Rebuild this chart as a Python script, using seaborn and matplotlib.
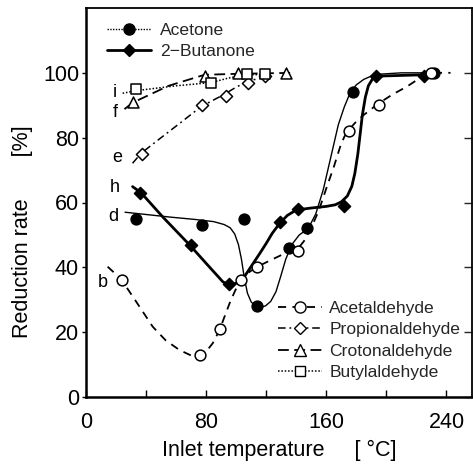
import numpy as np
import pandas as pd
import matplotlib
matplotlib.use("Agg")
import matplotlib.pyplot as plt
from matplotlib.lines import Line2D
import seaborn as sns

# ---------------- data ----------------
acetone_t = [33, 77, 105, 114, 135, 147, 178, 232]
acetone_r = [55, 53, 55, 28, 46, 52, 94, 100]
acetone_curve_t = [26, 40, 56, 72, 85, 92, 96, 99, 101.5, 103.5, 105.5, 107.5, 110, 113, 116,
                   119.5, 123, 126.5, 129.5, 133, 137, 142, 148, 153, 158, 163, 168, 172, 176,
                   180, 185, 190, 196, 210, 232]
acetone_curve_r = [57, 56.3, 55.5, 54.8, 54.1, 53.2, 52.2, 50.3, 47, 42.5, 36.5, 32, 29.3, 28, 27.7,
                   28.1, 29.5, 32.5, 37, 42.5, 47, 50, 52, 56.5, 64, 74, 84, 89.5, 94,
                   96.3, 98, 99, 99.6, 100, 100]

butanone_t = [36, 70, 95, 129, 141, 172, 193, 225]
butanone_r = [63, 47, 35, 54, 58, 59, 99, 99]
butanone_curve_t = [31, 36.7, 51, 69, 82, 91, 95.6, 102, 106, 111, 116, 120, 124, 129, 134, 140,
                    150, 160, 166, 170, 174, 177, 179, 181, 182.5, 184, 186, 188, 191, 195,
                    210, 225, 234]
butanone_curve_r = [64.9, 63, 55.6, 46.9, 40.2, 35.6, 34.3, 35.5, 37.5, 41, 44.5, 47.4, 50.5, 53.6,
                    56, 57.7, 58.3, 58.8, 59.3, 60.2, 62, 65, 69, 75, 81, 87, 92.5, 96, 98.3, 99,
                    99.2, 99.4, 100]

acetaldehyde_t = [24, 76, 89, 103, 114, 141, 175, 195, 230]
acetaldehyde_r = [36, 13, 21, 36, 40, 45, 82, 90, 100]
acetaldehyde_curve_t = [14.4, 23.3, 34, 44.4, 53, 62.2, 70, 75.6, 80, 84.4, 88.9, 92, 95.6, 99,
                        102.2, 107, 113.3, 122, 133.3, 140.4, 145, 149.3, 155, 160.4, 165, 169.3,
                        172, 174.9, 180, 184.9, 194.9, 204, 213.8, 222, 229.3, 242.7]
acetaldehyde_curve_r = [40.2, 36.4, 29, 21.7, 17.5, 14.5, 12.8, 12.7, 14, 16.6, 20.6, 24.5, 28.9,
                        32.5, 35.6, 38, 40, 42, 44.5, 45.4, 48, 51.5, 57.5, 64.9, 71, 77.3, 80.3,
                        82.4, 85, 87, 90.6, 93.3, 95.8, 98.3, 100, 100]

propionaldehyde_t = [37, 77, 93, 108, 119]
propionaldehyde_r = [75, 90, 93, 97, 99]
propionaldehyde_curve_t = [31, 36.7, 50, 64, 76.7, 92.2, 100, 108.9, 121]
propionaldehyde_curve_r = [72.1, 75.2, 80, 85, 89.6, 93.4, 95.6, 97.6, 98.8]

crotonaldehyde_t = [31, 79, 101, 133]
crotonaldehyde_r = [91, 99, 100, 100]
crotonaldehyde_curve_t = [25.6, 31.1, 55, 78.9, 101.1, 138]
crotonaldehyde_curve_r = [88.8, 90.8, 96, 99.4, 99.7, 100]

butylaldehyde_t = [33, 83, 107, 119]
butylaldehyde_r = [95, 97, 99.5, 99.5]
butylaldehyde_curve_t = [24.4, 33.3, 60, 83.3, 95, 106.7, 122]
butylaldehyde_curve_r = [93.7, 94.5, 96, 97, 98.4, 99.4, 99.5]

curve_letters = ["i", "f", "e", "h", "d", "b"]
letter_t = [19.3, 19.3, 20.5, 19.0, 18.5, 11.0]
letter_r = [93.8, 87.7, 73.8, 64.5, 55.6, 35.2]

x_ticks = [0, 80, 160, 240]
x_minor = [40, 120, 200]
y_ticks = [0, 20, 40, 60, 80, 100]

# ---------------- style ----------------
sns.set_theme(style="ticks")
plt.rcParams['font.family'] = ['Liberation Sans', 'DejaVu Sans']
plt.rcParams['axes.unicode_minus'] = True

fig = plt.figure(figsize=(4.73, 4.66), dpi=100)
ax = fig.add_axes([86 / 473, (466 - 397) / 466, 386 / 473, 389 / 466])

K = 'black'

def curve(t, r, ls, lw):
    sns.lineplot(x=t, y=r, sort=False, estimator=None, ax=ax, color=K,
                 linewidth=lw, linestyle=ls, zorder=2)

def points(t, r, marker, filled, s=48):
    sns.scatterplot(x=t, y=r, ax=ax, marker=marker, s=s,
                    color=K if filled else 'white', edgecolor=K,
                    linewidth=1.1, zorder=3)

dash_ald = (0, (4.5, 3.5))
dash_pro = (0, (5, 2.5, 1.2, 2.5))
dash_cro = (0, (6, 3))
dot_but = (0, (1, 1.2))

curve(acetone_curve_t, acetone_curve_r, '-', 1.0)
curve(butanone_curve_t, butanone_curve_r, '-', 2.0)
curve(acetaldehyde_curve_t, acetaldehyde_curve_r, dash_ald, 1.3)
curve(propionaldehyde_curve_t, propionaldehyde_curve_r, dash_pro, 1.1)
curve(crotonaldehyde_curve_t, crotonaldehyde_curve_r, dash_cro, 1.3)
curve(butylaldehyde_curve_t, butylaldehyde_curve_r, dot_but, 1.1)

points(acetone_t, acetone_r, 'o', True, 60)
points(butanone_t, butanone_r, 'D', True, 38)
points(acetaldehyde_t, acetaldehyde_r, 'o', False, 60)
points(propionaldehyde_t, propionaldehyde_r, 'D', False, 38)
points(crotonaldehyde_t, crotonaldehyde_r, '^', False, 62)
points(butylaldehyde_t, butylaldehyde_r, 's', False, 52)

for lab, t, r in zip(curve_letters, letter_t, letter_r):
    ax.text(t, r, lab, fontsize=13, ha='center', va='center', color=K)

# ---------------- axes ----------------
ax.set_xlim(0, 257)
ax.set_ylim(0, 120)
ax.set_xticks(x_ticks)
ax.set_xticks(x_minor, minor=True)
ax.set_yticks(y_ticks)
ax.set_xticklabels([str(v) for v in x_ticks])
ax.set_yticklabels([str(v) for v in y_ticks])
ax.tick_params(axis='x', which='both', direction='in', length=5, width=1,
               labelsize=15.5, pad=11, top=False, colors=K)
ax.tick_params(axis='y', which='major', direction='out', length=3, width=1,
               labelsize=15.5, pad=2, colors=K)
ax2 = ax.secondary_yaxis('right')
ax2.set_yticks(y_ticks)
ax2.tick_params(direction='in', length=6, width=1, labelright=False)
for side, lw in [('left', 1.8), ('bottom', 1.8), ('top', 1.3), ('right', 1.3)]:
    ax.spines[side].set_visible(True)
    ax.spines[side].set_linewidth(lw)
    ax.spines[side].set_color(K)
ax2.spines['right'].set_visible(False)

ax.set_xlabel("Inlet temperature     [ \u00b0C]", fontsize=15.5, color=K)
ax.set_ylabel("Reduction rate       [%]", fontsize=15.5, color=K)
ax.xaxis.set_label_coords(0.5, -0.11)
ax.yaxis.set_label_coords(-0.137, 0.424)

# ---------------- legends ----------------
LF = 12.6
h1 = [Line2D([], [], color=K, linestyle=(0, (1, 1)), lw=1.0, marker='o', markersize=8,
             markerfacecolor=K, markeredgecolor=K),
      Line2D([], [], color=K, linestyle='-', lw=2.0, marker='D', markersize=6,
             markerfacecolor=K, markeredgecolor=K)]
leg1 = ax.legend(h1, ["Acetone", "2\u2212Butanone"], loc='upper left',
                 bbox_to_anchor=(0.054, 0.962), frameon=False, fontsize=LF,
                 handlelength=2.5, handletextpad=0.55, labelspacing=0.32,
                 borderpad=0, borderaxespad=0)
ax.add_artist(leg1)

h2 = [Line2D([], [], color=K, linestyle=dash_ald, lw=1.3, marker='o', markersize=8,
             markerfacecolor='white', markeredgecolor=K),
      Line2D([], [], color=K, linestyle=dash_pro, lw=1.1, marker='D', markersize=6,
             markerfacecolor='white', markeredgecolor=K),
      Line2D([], [], color=K, linestyle=dash_cro, lw=1.3, marker='^', markersize=8,
             markerfacecolor='white', markeredgecolor=K),
      Line2D([], [], color=K, linestyle=dot_but, lw=1.1, marker='s', markersize=7,
             markerfacecolor='white', markeredgecolor=K)]
ax.legend(h2, ["Acetaldehyde", "Propionaldehyde", "Crotonaldehyde", "Butylaldehyde"],
          loc='upper left', bbox_to_anchor=(0.497, 0.248), frameon=False, fontsize=LF,
          handlelength=2.5, handletextpad=0.45, labelspacing=0.36,
          borderpad=0, borderaxespad=0)

fig.savefig("out.png", dpi=100)
